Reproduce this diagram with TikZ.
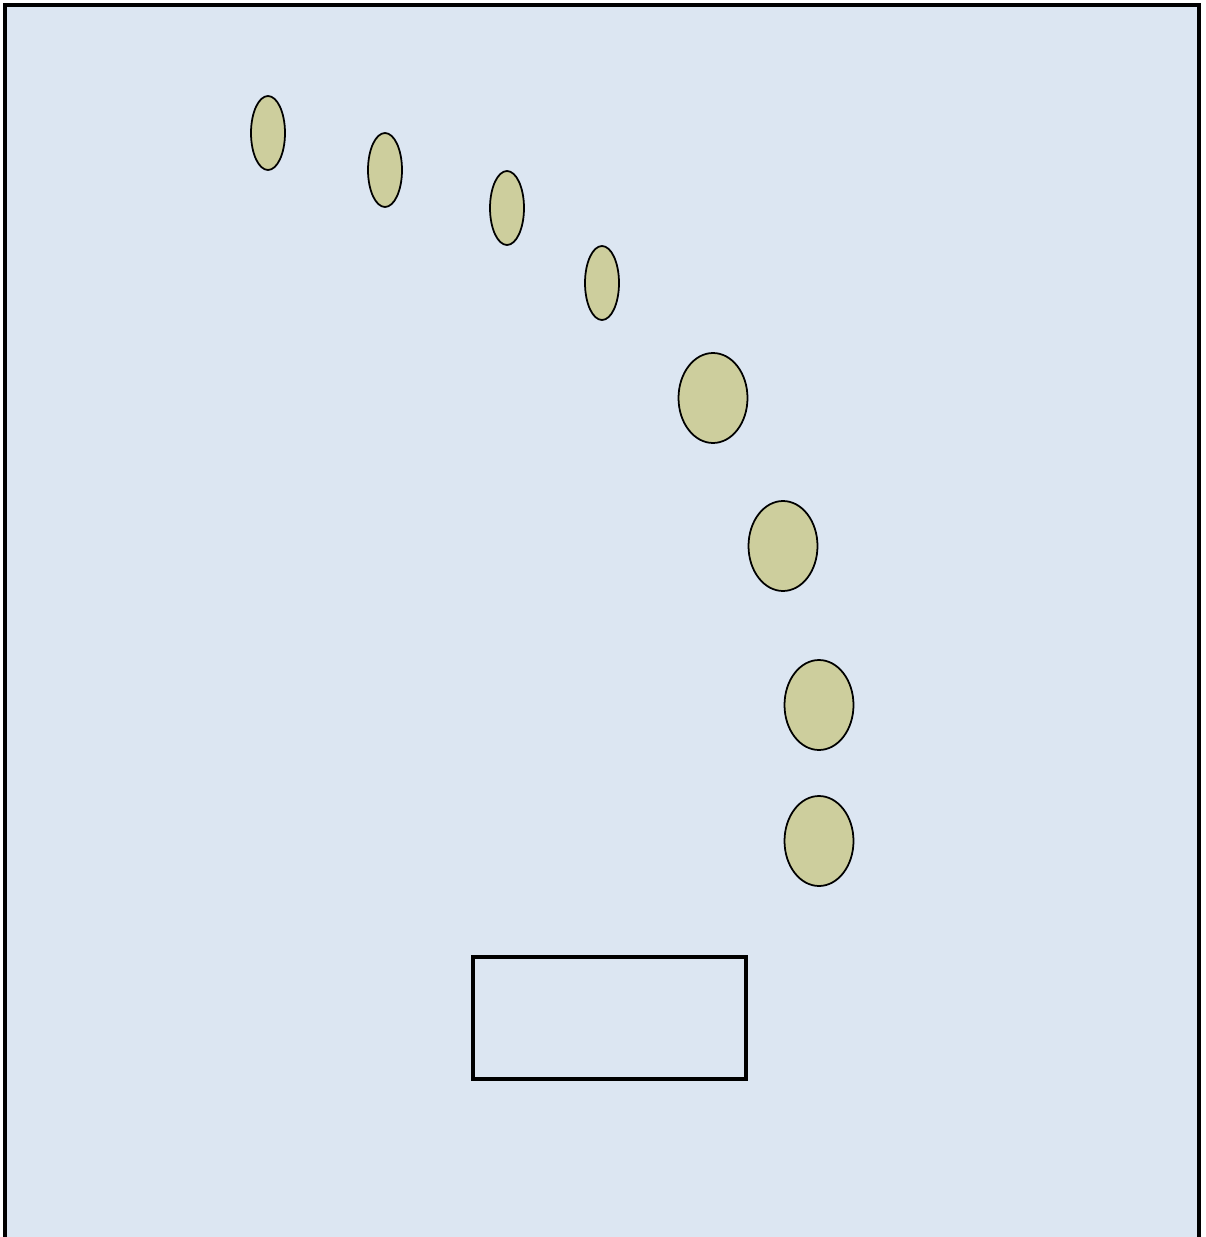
\documentclass[tikz,border=0pt]{standalone}
\usetikzlibrary{shapes.geometric}

\definecolor{paneblue}{RGB}{220,230,242}
\definecolor{stonekhaki}{RGB}{205,206,157}

\begin{document}
\begin{tikzpicture}[
  x=0.02cm, y=-0.02cm,
  every node/.style={inner sep=0pt, outer sep=0pt},
  stone/.style={ellipse, draw=black, fill=stonekhaki, line width=1pt},
  small/.style={stone, minimum width=0.68cm, minimum height=1.48cm},
  big/.style={stone, minimum width=1.38cm, minimum height=1.80cm},
  frame/.style={line width=2.3pt, draw=black},
  box/.style={rectangle, draw=black, line width=2.3pt, minimum width=5.46cm, minimum height=2.44cm}
]
\useasboundingbox (0,0) rectangle (1206,1237);

% ---------- background ----------
\begin{scope}
  \clip (0,0) rectangle (1206,1237);
  \fill[paneblue] (5,5) rectangle (1199,1245);
  \draw[frame] (5,1245) -- (5,5) -- (1199,5) -- (1199,1245);
\end{scope}

% ---------- stones ----------
\node[small] (s1) at (268,133) {};
\node[small] (s2) at (385,170) {};
\node[small] (s3) at (507,208) {};
\node[small] (s4) at (602,283) {};
\node[big]   (b1) at (713,398) {};
\node[big]   (b2) at (783,546) {};
\node[big]   (b3) at (819,705) {};
\node[big]   (b4) at (819,841) {};

% ---------- box ----------
\node[box] (base) at (609.5,1018) {};

\end{tikzpicture}
\end{document}
